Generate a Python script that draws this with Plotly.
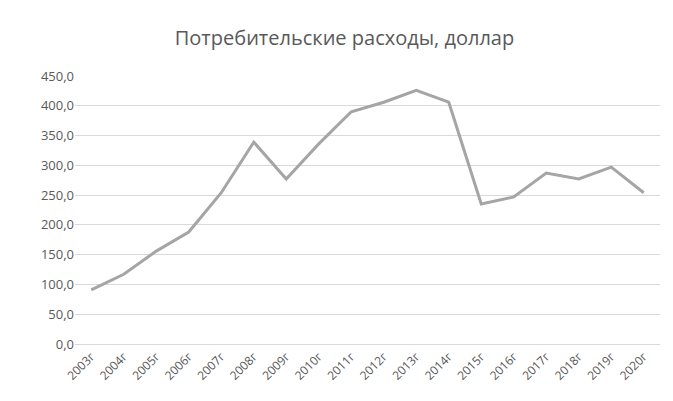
import plotly.graph_objects as go

years = [f"{y}г" for y in range(2003, 2021)]
values = [91, 117, 156, 188, 254, 339, 277, 336, 390, 406, 426, 406, 235, 247, 287, 277, 297, 254]
y_ticks = [0, 50, 100, 150, 200, 250, 300, 350, 400, 450]
y_tick_text = ["0,0", "50,0", "100,0", "150,0", "200,0", "250,0", "300,0", "350,0", "400,0", "450,0"]

fig = go.Figure(go.Scatter(x=years, y=values, mode="lines",
                           line=dict(color="#a5a5a5", width=3)))
fig.update_layout(
    width=673, height=401,
    margin=dict(l=67, r=21, t=68, b=65),
    plot_bgcolor="white", paper_bgcolor="white",
    font=dict(family="Open Sans, Liberation Sans, sans-serif", color="#595959", size=13),
    title=dict(text="Потребительские расходы, доллар", x=0.5, xanchor="center",
               y=0.925, yanchor="middle", font=dict(size=20, color="#595959")),
    showlegend=False,
)
fig.update_xaxes(tickangle=-45, showgrid=False, showline=True, linecolor="#d9d9d9",
                 ticks="", tickfont=dict(size=12), range=[-0.5, len(years) - 0.5],
                 automargin=False)
fig.update_yaxes(range=[0, 450], tickvals=y_ticks, ticktext=y_tick_text,
                 showgrid=True, gridcolor="#d9d9d9", zeroline=False, ticks="",
                 tickfont=dict(size=13), automargin=False)
fig.write_html("out.html")
